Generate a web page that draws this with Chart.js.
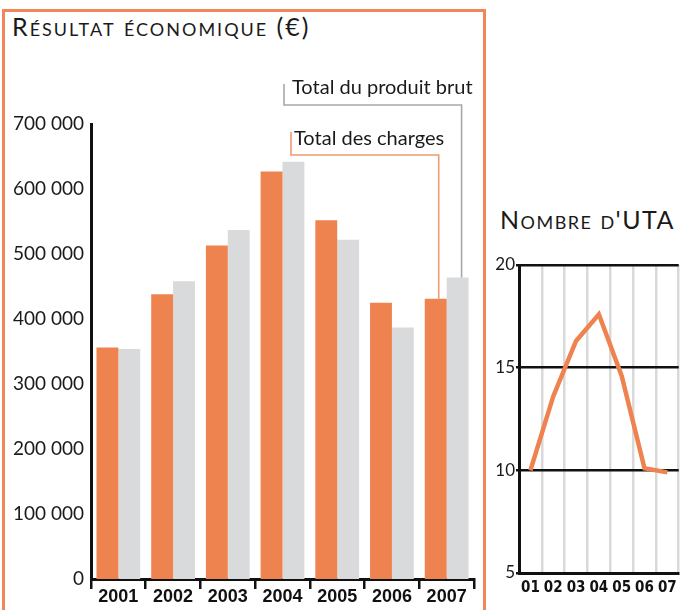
<!DOCTYPE html>
<html>
<head>
<meta charset="utf-8">
<script src="https://cdn.jsdelivr.net/npm/chart.js@4/dist/chart.umd.min.js"></script>
<style>
  html, body { margin:0; padding:0; background:#fff; width:683px; height:610px; overflow:hidden; }
  #box { position:absolute; left:2px; top:9px; width:484px; height:620px; border:3px solid #F0875A; border-bottom:none; box-sizing:border-box; }
  .title { position:absolute; font-family:Lato, "DejaVu Sans", sans-serif; font-variant:small-caps; color:#1a1a1a; font-size:25px; letter-spacing:2.0px; white-space:nowrap; line-height:1; }
  #t1 { left:12px; top:14px; }
  #t2 { left:500px; top:207px; letter-spacing:1.5px; }
  #c1 { position:absolute; left:0; top:0; }
  #c2 { position:absolute; left:483px; top:190px; }
</style>
</head>
<body>
<div id="box"></div>
<div class="title" id="t1">Résultat économique (€)</div>
<div class="title" id="t2">Nombre d'UTA</div>
<canvas id="c1" width="483" height="610"></canvas>
<canvas id="c2" width="200" height="420"></canvas>
<script>
// ---- Data ----
const years = ['2001', '2002', '2003', '2004', '2005', '2006', '2007'];
const totalCharges = [356000, 438000, 513000, 627000, 552000, 425000, 431000];
const totalProduitBrut = [354000, 458000, 537000, 642000, 522000, 387000, 464000];
const yTicksEuro = [0, 100000, 200000, 300000, 400000, 500000, 600000, 700000];

const utaLabels = ['01', '02', '03', '04', '05', '06', '07'];
const utaValues = [10, 13.6, 16.3, 17.6, 14.6, 10.1, 9.9];
const utaTicks = [5, 10, 15, 20];

const seriesNames = ['Total des charges', 'Total du produit brut'];

const ORANGE = '#EE8350';
const GREY = '#D9DADB';
const INK = '#111111';

function fmtSpace(v) {
  return String(v).replace(/\B(?=(\d{3})+(?!\d))/g, ' ');
}

// Callout annotations tied to the 2007 bars
const calloutPlugin = {
  id: 'callouts',
  afterDatasetsDraw(chart) {
    const ctx = chart.ctx;
    const last = years.length - 1;
    const ob = chart.getDatasetMeta(0).data[last];
    const gb = chart.getDatasetMeta(1).data[last];
    ctx.save();
    ctx.lineWidth = 1.6;
    // grey: Total du produit brut
    ctx.strokeStyle = '#A8A8A8';
    ctx.beginPath();
    ctx.moveTo(284, 84);
    ctx.lineTo(284, 105);
    ctx.lineTo(gb.x + 4, 105);
    ctx.lineTo(gb.x + 4, gb.y);
    ctx.stroke();
    // orange: Total des charges
    ctx.strokeStyle = '#F09A70';
    ctx.beginPath();
    ctx.moveTo(291, 132);
    ctx.lineTo(291, 155);
    ctx.lineTo(ob.x + 3, 155);
    ctx.lineTo(ob.x + 3, ob.y);
    ctx.stroke();
    ctx.fillStyle = '#1a1a1a';
    ctx.font = '20px Lato, "DejaVu Sans", sans-serif';
    ctx.textBaseline = 'alphabetic';
    ctx.textAlign = 'left';
    ctx.fillText(seriesNames[1], 292, 94);
    ctx.fillText(seriesNames[0], 294, 145);
    ctx.restore();
  }
};

new Chart(document.getElementById('c1'), {
  type: 'bar',
  data: {
    labels: years,
    datasets: [
      { label: seriesNames[0], data: totalCharges, backgroundColor: ORANGE, borderWidth: 0, categoryPercentage: 0.8, barPercentage: 1.0 },
      { label: seriesNames[1], data: totalProduitBrut, backgroundColor: GREY, borderWidth: 0, categoryPercentage: 0.8, barPercentage: 1.0 }
    ]
  },
  options: {
    responsive: false,
    animation: false,
    layout: { padding: { left: 0, right: 9, top: 124, bottom: 0 } },
    plugins: { legend: { display: false }, tooltip: { enabled: false } },
    scales: {
      x: {
        offset: true,
        grid: { display: true, drawOnChartArea: false, drawTicks: true, tickLength: 10, color: INK, lineWidth: 2.5, offset: true },
        border: { display: true, color: INK, width: 3 },
        ticks: { color: INK, maxRotation: 0, autoSkip: false, font: { family: '"Liberation Sans", Arial, sans-serif', size: 18, weight: 'bold' }, padding: -3 },
        afterFit: s => { s.height = 31; }
      },
      y: {
        min: 0, max: 700000,
        afterBuildTicks: s => { s.ticks = yTicksEuro.map(v => ({ value: v })); },
        grid: { display: false, drawTicks: false },
        border: { display: true, color: INK, width: 3 },
        ticks: { color: '#1a1a1a', font: { family: 'Lato, "DejaVu Sans", sans-serif', size: 19 }, padding: 7, callback: v => fmtSpace(v) },
        afterFit: s => { s.width = 91; }
      }
    }
  },
  plugins: [calloutPlugin]
});

new Chart(document.getElementById('c2'), {
  type: 'line',
  data: {
    labels: utaLabels,
    datasets: [{
      label: "Nombre d'UTA",
      data: utaValues,
      borderColor: ORANGE,
      borderWidth: 4.5,
      pointRadius: 0,
      tension: 0,
      fill: false
    }]
  },
  options: {
    responsive: false,
    animation: false,
    layout: { padding: { left: 0, right: 4, top: 75, bottom: 0 } },
    plugins: { legend: { display: false }, tooltip: { enabled: false } },
    scales: {
      x: {
        offset: true,
        grid: {
          offset: true,
          drawTicks: false,
          lineWidth: 2.5,
          color: c => (c.index === 0 || c.index >= utaLabels.length) ? 'rgba(0,0,0,0)' : '#D9D9D9'
        },
        border: { display: true, color: INK, width: 3 },
        ticks: { color: INK, maxRotation: 0, minRotation: 0, autoSkip: false, font: { family: '"Liberation Sans Narrow", "DejaVu Sans Condensed", sans-serif', size: 15, weight: 'bold' }, padding: 6 },
        afterFit: s => { s.height = 37; }
      },
      y: {
        min: 5, max: 20,
        afterBuildTicks: s => { s.ticks = utaTicks.map(v => ({ value: v })); },
        grid: { color: INK, lineWidth: 2.5, drawTicks: true, tickLength: 3 },
        border: { display: true, color: INK, width: 3 },
        ticks: { color: '#1a1a1a', font: { family: 'Lato, "DejaVu Sans", sans-serif', size: 17 }, padding: 1 },
        afterFit: s => { s.width = 36; }
      }
    }
  }
});
</script>
</body>
</html>
